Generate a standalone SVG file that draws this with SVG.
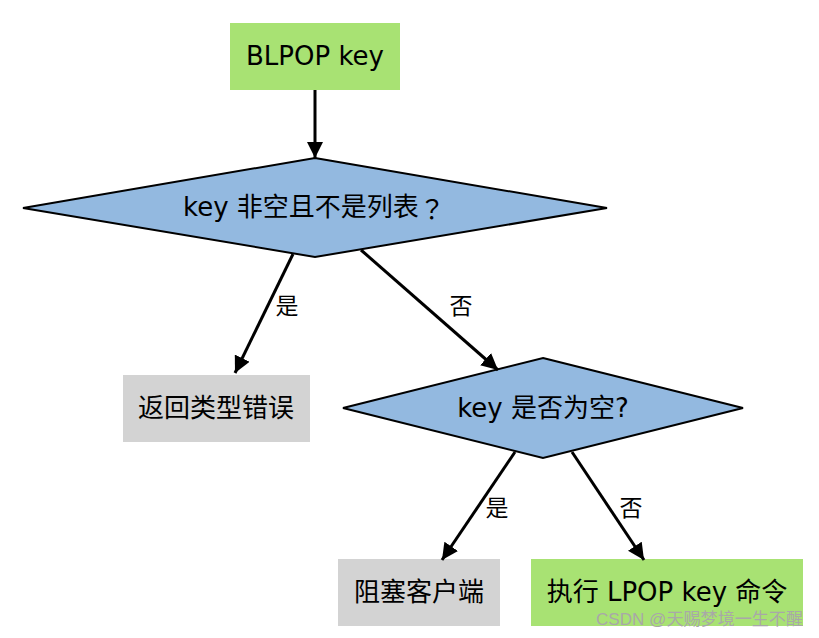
<svg xmlns="http://www.w3.org/2000/svg" width="819" height="638" viewBox="0 0 819 638">
<defs>
<style>
.t{font-family:"DejaVu Sans","Noto Sans CJK SC",sans-serif;font-size:26px;fill:#000;text-anchor:middle;dominant-baseline:central}
.l{font-family:"DejaVu Sans","Noto Sans CJK SC",sans-serif;font-size:23px;fill:#000;text-anchor:middle;dominant-baseline:central}
.g{fill:#a8e273}
.gr{fill:#d3d3d3}
.d{fill:#93b9e0;stroke:#000;stroke-width:2}
.e{stroke:#000;stroke-width:3;fill:none;marker-end:url(#ah)}
</style>
<marker id="ah" viewBox="0 0 10 10" refX="10" refY="5" markerWidth="5.5" markerHeight="5.5" orient="auto" markerUnits="strokeWidth">
<path d="M0,0 L10,5 L0,10 z" fill="#000"/>
</marker>
</defs>
<rect width="819" height="638" fill="#fff"/>
<g id="n1"><rect class="g" x="230" y="23" width="170" height="67"/><text class="t" x="315" y="56">BLPOP key</text></g>
<g id="n2"><polygon class="d" points="315,158 607,208 315,257 23,208"/><text class="t" x="314" y="207">key 非空且不是列表<tspan font-family="'Noto Sans CJK TC',sans-serif">？</tspan></text></g>
<g id="n3"><rect class="gr" x="123" y="375" width="187" height="67"/><text class="t" x="216" y="408">返回类型错误</text></g>
<g id="n4"><polygon class="d" points="543,358 743,408 543,458 343,408"/><text class="t" x="543" y="408">key 是否为空?</text></g>
<g id="n5"><rect class="gr" x="338" y="559" width="162" height="67"/><text class="t" x="419" y="592">阻塞客户端</text></g>
<g id="n6"><rect class="g" x="531" y="559" width="272" height="67"/><text class="t" x="667" y="592">执行 LPOP key 命令</text></g>
<g id="edges">
<line class="e" x1="315" y1="90" x2="315" y2="158"/>
<line class="e" x1="293" y1="254" x2="235" y2="373"/>
<line class="e" x1="361" y1="250" x2="498" y2="370"/>
<line class="e" x1="515" y1="452" x2="442" y2="560"/>
<line class="e" x1="572" y1="452" x2="644" y2="560"/>
<text class="l" x="287" y="306">是</text>
<text class="l" x="461" y="306">否</text>
<text class="l" x="497" y="508">是</text>
<text class="l" x="631" y="508">否</text>
</g>
<text x="596" y="619" textLength="207" lengthAdjust="spacingAndGlyphs" dominant-baseline="central" font-family="Liberation Sans,'Noto Sans CJK SC',sans-serif" font-size="17" fill="#a8a8a8">CSDN @天赐梦境一生不醒</text>
</svg>
